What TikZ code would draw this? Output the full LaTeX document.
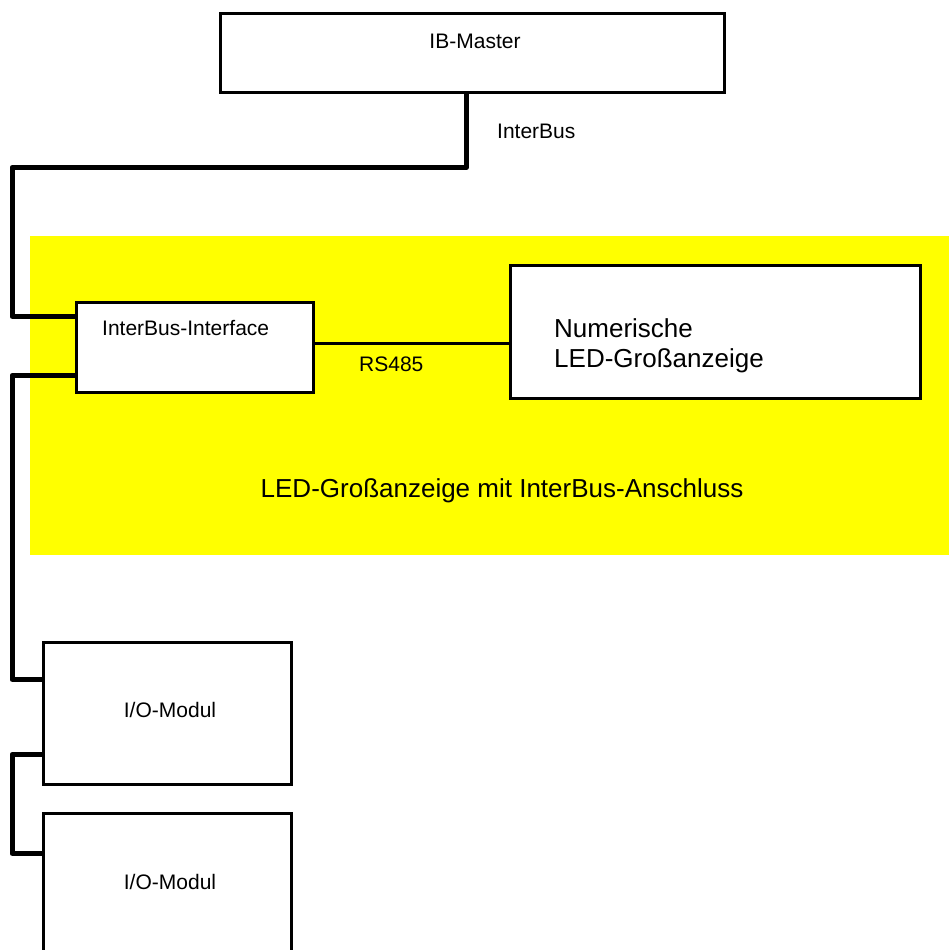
\documentclass[tikz,border=0pt]{standalone}
\usepackage{fontspec}
\setmainfont{Liberation Sans}
\definecolor{ylw}{RGB}{255,255,0}
\begin{document}
\begin{tikzpicture}[x=1pt,y=-1pt,
  box/.style={draw=black,line width=2.6pt,fill=white,rectangle,inner sep=0pt,anchor=north west},
  bus/.style={draw=black,line width=5pt,line join=round},
  thin/.style={draw=black,line width=2.6pt},
  small/.style={font=\fontsize{21}{25}\selectfont,inner sep=0pt},
  big/.style={font=\fontsize{26}{30}\selectfont,inner sep=0pt}]
\useasboundingbox (0,0) rectangle (949,950);
\clip (0,0) rectangle (949,950);
% yellow region
\fill[ylw] (30,236) rectangle (949,555);
% boxes
\node[box,minimum width=504pt,minimum height=79pt] (master) at (219,12) {};
\node[box,minimum width=237pt,minimum height=90pt] (iface) at (75,301) {};
\node[box,minimum width=410pt,minimum height=133pt] (led) at (509,264) {};
\node[box,minimum width=248pt,minimum height=142pt] (io1) at (42,641) {};
\node[box,minimum width=248pt,minimum height=150pt] (io2) at (42,812) {};
% texts
\node[small] (tmaster) at (475,41) {IB-Master};
\node[small,anchor=west] (tbus) at (497,131) {InterBus};
\node[small,anchor=west] (tiface) at (102,328) {InterBus-Interface};
\node[small,anchor=west] (trs) at (359,364) {RS485};
\node[big,anchor=north west,align=left] (tled) at (554,318) {Numerische\\LED-Großanzeige};
\node[big] (tregion) at (502,491) {LED-Großanzeige mit InterBus-Anschluss};
\node[small] (tio1) at (170,710) {I/O-Modul};
\node[small] (tio2) at (170,882) {I/O-Modul};
% connectors
\draw[bus] ([xshift=-6pt]master.south) -- ++(0,74) -| ([xshift=-63pt,yshift=31pt]iface.west) -- ([yshift=31pt]iface.west);
\draw[bus] ([yshift=-28pt]iface.west) -| ([xshift=-30pt,yshift=34pt]io1.west) -- ([yshift=34pt]io1.west);
\draw[bus] ([yshift=-41pt]io1.west) -| ([xshift=-30pt,yshift=35pt]io2.west) -- ([yshift=35pt]io2.west);
\draw[thin] ([yshift=4pt]iface.east) -- ([yshift=4pt]iface.east -| led.west);
\end{tikzpicture}
\end{document}
